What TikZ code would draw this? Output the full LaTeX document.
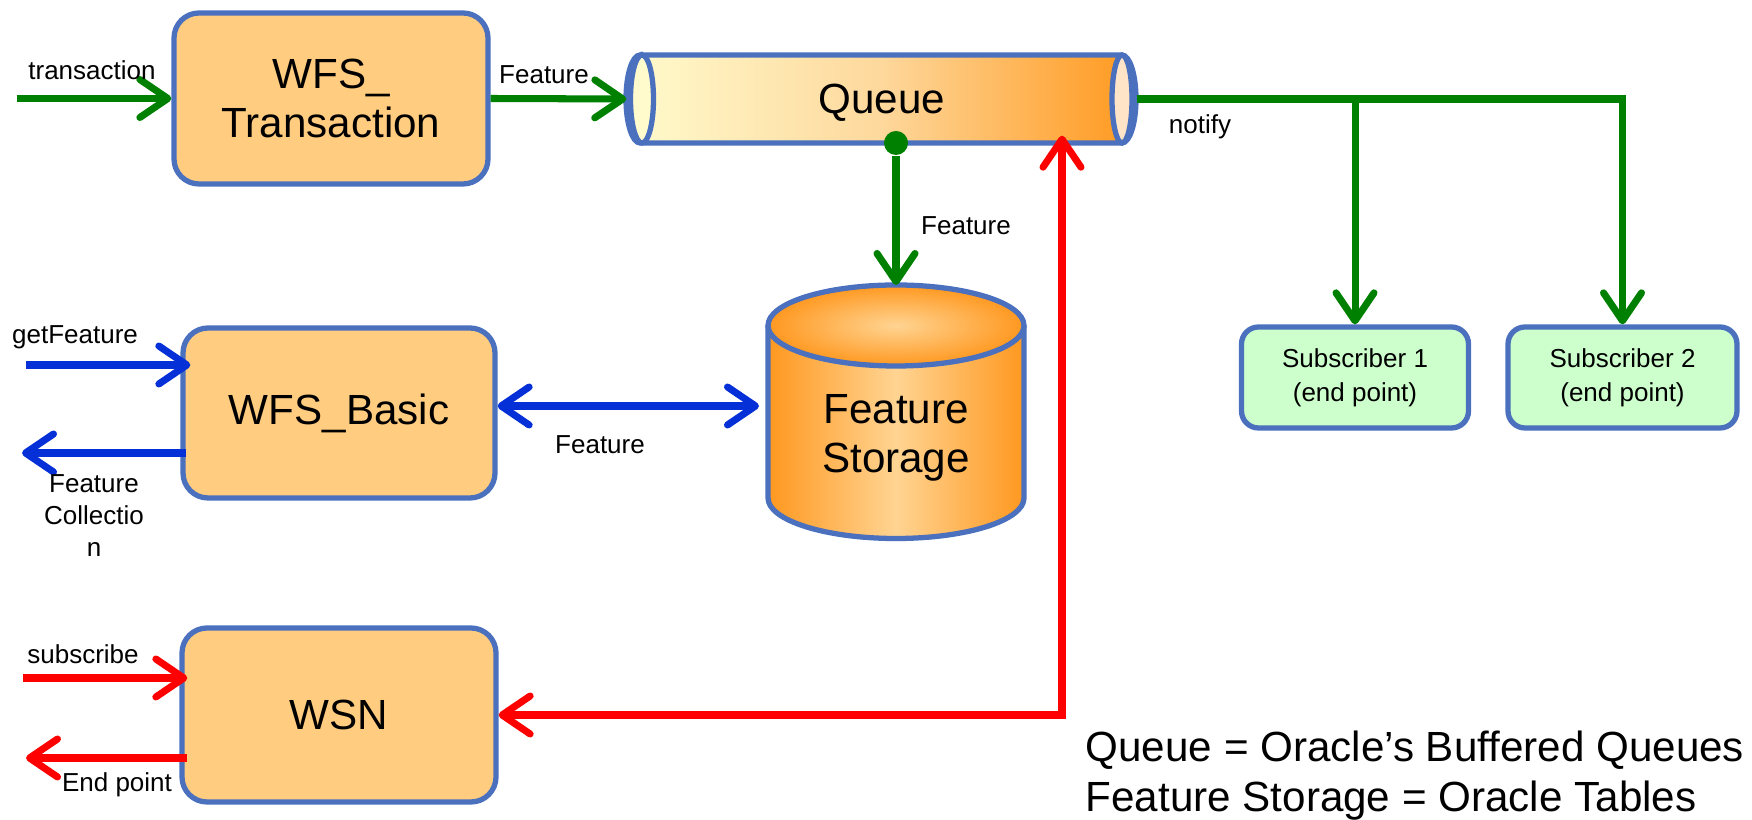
\documentclass[tikz,border=0pt]{standalone}
\usepackage{fontspec}
\setmainfont{Liberation Sans}
\usetikzlibrary{arrows.meta}
\definecolor{edgeblue}{RGB}{74,112,190}
\definecolor{boxorange}{RGB}{255,204,128}
\definecolor{subgreen}{RGB}{204,255,204}
\definecolor{qlight}{RGB}{255,251,205}
\definecolor{qmid}{RGB}{254,216,156}
\definecolor{qorange}{RGB}{255,152,30}
\definecolor{qpeach}{RGB}{255,228,200}
\definecolor{dborange}{RGB}{255,152,32}
\definecolor{dblight}{RGB}{255,212,146}
\definecolor{arrgreen}{RGB}{0,128,0}
\definecolor{arrblue}{RGB}{5,48,215}
\definecolor{arrred}{RGB}{255,0,0}

\begin{document}
\begin{tikzpicture}[
  >={Straight Barb[length=2.8mm,width=3.8mm,round]},
  edge/.style={draw=edgeblue, line width=1.5pt},
  big/.style={font=\fontsize{12}{14}\selectfont},
  box/.style={edge, fill=boxorange, rounded corners=0.25cm, align=center, big},
  subbox/.style={edge, fill=subgreen, rounded corners=0.17cm, align=center,
    font=\fontsize{7.4}{9.6}\selectfont, minimum width=2.27cm, minimum height=1.01cm},
  lbl/.style={font=\fontsize{7.4}{9.1}\selectfont, inner sep=0pt, align=center},
  garr/.style={arrgreen, line width=2pt},
  barr/.style={arrblue, line width=2pt},
  rarr/.style={arrred, line width=2pt}]
\useasboundingbox (0,0) rectangle (17.52,8.2);

\node[box, minimum width=3.14cm, minimum height=1.71cm] (trans) at (3.31,7.215) {WFS\_\\Transaction};
\node[box, minimum width=3.12cm, minimum height=1.70cm] (basic) at (3.39,4.07) {WFS\_Basic};
\node[box, minimum width=3.14cm, minimum height=1.74cm] (wsn) at (3.39,1.05) {WSN};

\shadedraw[edge, left color=qlight, right color=qorange, middle color=qmid]
  (6.40,7.65) -- (11.22,7.65) arc[start angle=90, end angle=-90, x radius=0.14, y radius=0.44]
  -- (6.40,6.77) arc[start angle=270, end angle=90, x radius=0.14, y radius=0.44] -- cycle;
\draw[edge, fill=qlight] (6.42,7.21) ellipse[x radius=0.115, y radius=0.44];
\draw[edge, fill=qpeach] (11.22,7.21) ellipse[x radius=0.1, y radius=0.44];
\node[big, inner sep=0pt, minimum width=5.09cm, minimum height=0.88cm] (queue) at (8.815,7.21) {};
\node[big, inner sep=0pt] (qtext) at (8.82,7.17) {Queue};

\shade[left color=dborange, right color=dborange, middle color=dblight]
  (7.68,4.945) -- (7.68,3.22) arc[start angle=180, end angle=360, x radius=1.28, y radius=0.405]
  -- (10.24,4.945) -- cycle;
\draw[edge] (7.68,4.945) -- (7.68,3.22) arc[start angle=180, end angle=360, x radius=1.28, y radius=0.405]
  -- (10.24,4.945);
\shadedraw[edge, inner color=dblight, outer color=dborange] (8.96,4.945) ellipse[x radius=1.28, y radius=0.405];
\node[big, align=center] (store) at (8.96,3.82) {Feature\\Storage};
\coordinate (storetop) at (8.96,5.35);
\coordinate (storeleft) at (7.68,4.14);

\node[subbox] (sub1) at (13.55,4.425) {Subscriber 1\\(end point)};
\node[subbox, minimum width=2.29cm] (sub2) at (16.225,4.425) {Subscriber 2\\(end point)};

\node[circle, fill=arrgreen, inner sep=0pt, minimum size=0.24cm] (dot) at (8.96,6.77) {};

\coordinate (transin) at (0.17,7.215);
\coordinate (getin) at (0.26,4.55);
\coordinate (collout) at (0.22,3.67);
\coordinate (subin) at (0.23,1.42);
\coordinate (endout) at (0.26,0.62);

\draw[garr,->] (transin) -- (trans.west);
\draw[garr,->] (trans.east) -- (queue.west);
\draw[garr,->] (dot) -- (storetop);
\draw[garr,->] (queue.east) -| (sub2.north);
\draw[garr,->] (queue.east -| sub1.north) -- (sub1.north);

\draw[barr,->] (getin) -- ([xshift=0.1cm]getin -| basic.west);
\draw[barr,->] ([xshift=0.06cm]collout -| basic.west) -- (collout);
\draw[barr,<->,shorten >=0.09cm] (storeleft -| basic.east) -- (storeleft);

\draw[rarr,->] (subin) -- ([xshift=0.08cm]subin -| wsn.west);
\draw[rarr,->] ([xshift=0.08cm]endout -| wsn.west) -- (endout);
\draw[rarr,<->,shorten <=-0.08cm] ([xshift=1.805cm]queue.south) |- (wsn.east);

\node[lbl] (ltrans) at (0.92,7.50) {transaction};
\node[lbl] (lfeat1) at (5.44,7.45) {Feature};
\node[lbl] (lnotify) at (12.00,6.93) {notify};
\node[lbl] (lfeat2) at (9.66,5.94) {Feature};
\node[lbl] (lget) at (0.75,4.83) {getFeature};
\node[lbl] (lcoll) at (0.94,3.04) {Feature\\Collectio\\n};
\node[lbl] (lfeat3) at (6.00,3.75) {Feature};
\node[lbl] (lsub) at (0.83,1.66) {subscribe};
\node[lbl] (lend) at (1.17,0.35) {End point};

\node[big, anchor=base west, inner sep=0pt] (leg1) at (10.85,0.58) {Queue = Oracle’s Buffered Queues};
\node[big, anchor=base west, inner sep=0pt] (leg2) at (10.85,0.08) {Feature Storage = Oracle Tables};
\end{tikzpicture}
\end{document}
